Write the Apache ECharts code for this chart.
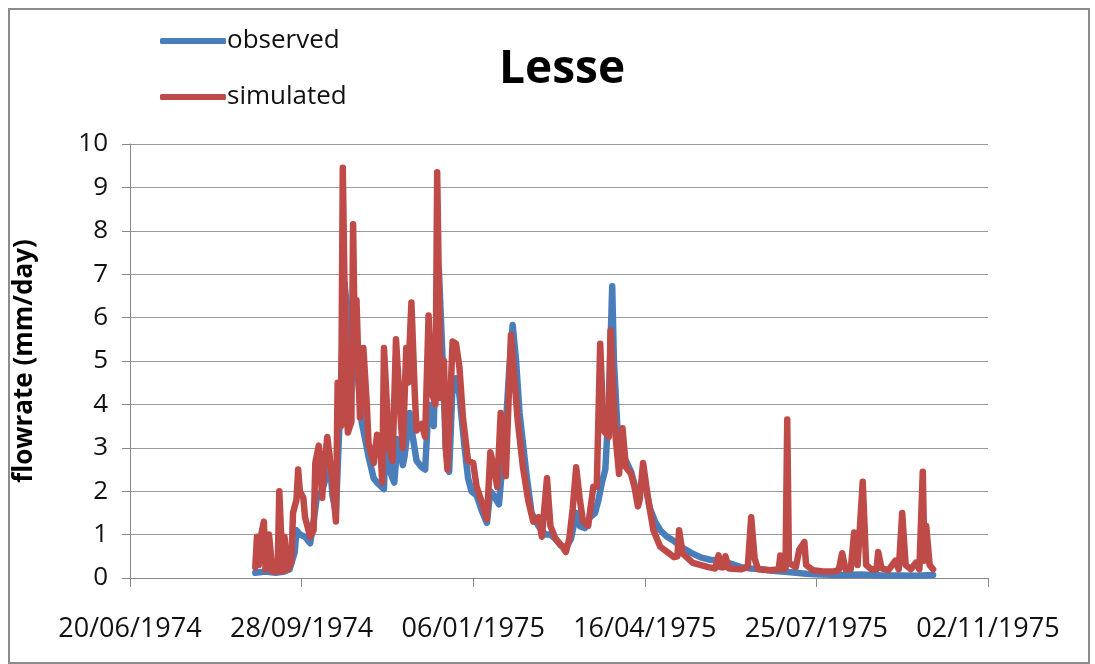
<!DOCTYPE html>
<html>
<head>
<meta charset="utf-8">
<script src="https://cdn.jsdelivr.net/npm/echarts@6/dist/echarts.min.js"></script>
<style>
html,body{margin:0;padding:0;background:#fff;}
#chart{width:1095px;height:664px;}
</style>
</head>
<body>
<div id="chart"></div>
<script>
// ---- data ----
var title = 'Lesse';
var yAxisName = 'flowrate (mm/day)';
var axisStart = '1974-06-20';
var axisEnd = '1975-11-02';
var tickStepDays = 100;

var simDates = ['1974-09-01','1974-09-02','1974-09-03','1974-09-04','1974-09-06','1974-09-07','1974-09-09','1974-09-11','1974-09-14','1974-09-15','1974-09-17','1974-09-18','1974-09-20','1974-09-22','1974-09-23','1974-09-25','1974-09-26','1974-09-27','1974-09-29','1974-09-30','1974-10-03','1974-10-05','1974-10-06','1974-10-08','1974-10-10','1974-10-11','1974-10-13','1974-10-16','1974-10-18','1974-10-19','1974-10-21','1974-10-22','1974-10-24','1974-10-25','1974-10-27','1974-10-28','1974-10-29','1974-10-30','1974-11-01','1974-11-03','1974-11-05','1974-11-06','1974-11-09','1974-11-11','1974-11-13','1974-11-14','1974-11-15','1974-11-18','1974-11-20','1974-11-22','1974-11-25','1974-11-26','1974-11-28','1974-11-29','1974-12-01','1974-12-03','1974-12-04','1974-12-07','1974-12-09','1974-12-11','1974-12-13','1974-12-15','1974-12-16','1974-12-18','1974-12-20','1974-12-21','1974-12-22','1974-12-25','1974-12-27','1974-12-29','1974-12-31','1975-01-03','1975-01-06','1975-01-08','1975-01-11','1975-01-14','1975-01-16','1975-01-18','1975-01-20','1975-01-22','1975-01-24','1975-01-25','1975-01-27','1975-01-28','1975-01-30','1975-02-01','1975-02-04','1975-02-07','1975-02-10','1975-02-13','1975-02-15','1975-02-18','1975-02-20','1975-02-23','1975-02-27','1975-03-01','1975-03-03','1975-03-05','1975-03-07','1975-03-09','1975-03-11','1975-03-14','1975-03-17','1975-03-19','1975-03-21','1975-03-23','1975-03-26','1975-03-27','1975-03-29','1975-03-30','1975-04-01','1975-04-03','1975-04-05','1975-04-08','1975-04-10','1975-04-12','1975-04-13','1975-04-15','1975-04-18','1975-04-21','1975-04-25','1975-04-29','1975-05-03','1975-05-05','1975-05-06','1975-05-08','1975-05-14','1975-05-23','1975-05-27','1975-05-29','1975-05-30','1975-06-01','1975-06-02','1975-06-04','1975-06-11','1975-06-15','1975-06-17','1975-06-19','1975-06-21','1975-06-28','1975-07-03','1975-07-04','1975-07-05','1975-07-07','1975-07-08','1975-07-09','1975-07-13','1975-07-15','1975-07-18','1975-07-19','1975-07-23','1975-07-29','1975-08-04','1975-08-07','1975-08-09','1975-08-11','1975-08-14','1975-08-16','1975-08-18','1975-08-21','1975-08-23','1975-08-26','1975-08-29','1975-08-30','1975-09-01','1975-09-05','1975-09-09','1975-09-11','1975-09-13','1975-09-15','1975-09-18','1975-09-21','1975-09-23','1975-09-25','1975-09-26','1975-09-27','1975-09-29','1975-10-01'];
var simValues = [0.25,0.95,0.3,0.9,1.3,0.2,1.0,0.15,0.15,2.0,0.15,0.95,0.2,0.35,1.5,1.8,2.5,2.0,1.85,1.4,0.95,1.1,2.65,3.05,1.85,2.55,3.25,2.2,1.3,4.5,3.5,9.45,4.0,3.35,3.6,8.15,5.5,6.4,3.7,5.3,4.0,3.1,2.65,3.3,2.95,2.2,5.3,3.0,2.7,5.5,3.5,3.0,5.3,4.5,6.35,4.2,3.4,3.55,3.25,6.05,4.25,4.0,9.35,4.15,5.0,3.0,2.5,5.45,5.4,4.85,3.7,2.7,2.65,2.1,1.75,1.35,2.9,2.55,2.1,3.8,3.1,2.35,4.5,5.6,4.6,3.6,2.55,1.8,1.3,1.4,0.95,2.3,1.2,0.9,0.72,0.6,0.9,1.6,2.55,1.85,1.3,1.2,2.1,2.1,5.4,3.4,3.25,5.7,4.0,3.25,2.4,3.45,2.55,2.4,2.1,1.65,1.8,2.65,1.8,1.1,0.72,0.6,0.48,0.5,1.1,0.57,0.35,0.25,0.22,0.52,0.25,0.25,0.5,0.22,0.2,0.25,1.4,0.45,0.2,0.18,0.2,0.52,0.2,0.22,3.65,0.35,0.25,0.65,0.83,0.3,0.18,0.15,0.15,0.18,0.57,0.2,0.2,1.05,0.3,2.22,0.3,0.2,0.2,0.6,0.22,0.18,0.4,0.2,1.5,0.3,0.2,0.35,0.2,2.45,0.4,1.2,0.3,0.2];

var obsDates = ['1974-09-01','1974-09-07','1974-09-13','1974-09-18','1974-09-21','1974-09-24','1974-09-25','1974-09-27','1974-09-30','1974-10-03','1974-10-05','1974-10-07','1974-10-10','1974-10-12','1974-10-14','1974-10-16','1974-10-18','1974-10-19','1974-10-21','1974-10-23','1974-10-25','1974-10-26','1974-10-28','1974-10-30','1974-11-02','1974-11-04','1974-11-06','1974-11-09','1974-11-11','1974-11-15','1974-11-16','1974-11-19','1974-11-21','1974-11-23','1974-11-26','1974-11-27','1974-11-30','1974-12-02','1974-12-04','1974-12-07','1974-12-09','1974-12-11','1974-12-14','1974-12-15','1974-12-17','1974-12-19','1974-12-21','1974-12-23','1974-12-25','1974-12-27','1974-12-29','1975-01-01','1975-01-03','1975-01-05','1975-01-08','1975-01-11','1975-01-14','1975-01-16','1975-01-18','1975-01-21','1975-01-23','1975-01-25','1975-01-27','1975-01-29','1975-01-31','1975-02-02','1975-02-06','1975-02-09','1975-02-13','1975-02-17','1975-02-20','1975-02-23','1975-02-26','1975-03-01','1975-03-04','1975-03-07','1975-03-09','1975-03-12','1975-03-15','1975-03-18','1975-03-20','1975-03-22','1975-03-24','1975-03-26','1975-03-28','1975-03-29','1975-03-31','1975-04-02','1975-04-05','1975-04-08','1975-04-11','1975-04-14','1975-04-16','1975-04-19','1975-04-22','1975-04-25','1975-04-29','1975-05-03','1975-05-07','1975-05-13','1975-05-19','1975-05-24','1975-05-30','1975-06-05','1975-06-11','1975-06-17','1975-06-23','1975-07-01','1975-07-10','1975-07-19','1975-07-28','1975-08-08','1975-08-20','1975-09-01','1975-09-12','1975-09-21','1975-10-01'];
var obsValues = [0.12,0.15,0.12,0.15,0.2,0.6,1.1,1.0,0.95,0.8,1.3,1.9,2.0,2.3,2.9,1.9,1.5,2.5,4.5,6.8,6.0,4.5,6.0,5.0,3.6,3.2,2.8,2.3,2.2,2.05,3.5,2.4,2.2,3.2,2.6,2.8,3.8,3.2,2.7,2.55,2.5,4.0,3.5,5.0,7.1,5.2,3.0,2.45,4.5,4.6,4.2,3.0,2.3,2.0,1.9,1.55,1.27,2.0,1.9,1.7,2.6,3.5,4.8,5.83,5.0,3.8,2.4,1.5,1.2,1.0,1.0,0.9,0.75,0.7,0.9,1.5,1.2,1.15,1.4,1.5,1.8,2.2,2.5,4.0,6.72,5.0,3.5,3.0,2.7,2.45,2.0,2.1,2.2,1.6,1.3,1.1,0.95,0.85,0.72,0.58,0.47,0.42,0.4,0.33,0.25,0.22,0.2,0.16,0.13,0.1,0.08,0.07,0.08,0.06,0.06,0.05,0.07];

// ---- helpers ----
var DAY = 86400000;
function toUTC(s){ var p = s.split('-'); return Date.UTC(+p[0], +p[1]-1, +p[2]); }
var base = toUTC(axisStart);
var span = (toUTC(axisEnd) - base) / DAY;
function dayIndex(s){ return (toUTC(s) - base) / DAY; }
function pairs(dates, vals){ return dates.map(function(d,i){ return [dayIndex(d), vals[i]]; }); }
function pad(n){ return (n<10?'0':'') + n; }
function fmt(v){ var d = new Date(base + v*DAY); return pad(d.getUTCDate()) + '/' + pad(d.getUTCMonth()+1) + '/' + d.getUTCFullYear(); }

var FONT = 'Open Sans';
var chart = echarts.init(document.getElementById('chart'), null, {renderer:'canvas'});
chart.setOption({
  animation: false,
  backgroundColor: '#fff',
  graphic: [{
    type: 'rect', left: 8, top: 8, z: -1,
    shape: {width: 1080, height: 654},
    style: {fill: '#fff', stroke: '#8c8c8c', lineWidth: 2}
  }],
  title: {
    text: title, left: 494, top: 42,
    textStyle: {fontFamily: FONT, fontWeight: 'bold', fontSize: 46, color: '#000'}
  },
  legend: {
    orient: 'vertical', left: 160, top: 26, padding: 0,
    itemWidth: 66, itemHeight: 6, itemGap: 26, icon: 'roundRect',
    textStyle: {fontFamily: FONT, fontSize: 26, color: '#111', lineHeight: 30, padding: [0,0,0,-4]},
    data: ['observed', 'simulated']
  },
  grid: {left: 130, right: 107, top: 144, bottom: 86},
  xAxis: {
    type: 'value', min: 0, max: span, interval: tickStepDays,
    axisLine: {show: true, onZero: false, lineStyle: {color: '#888', width: 1}},
    axisTick: {show: true, length: 9, lineStyle: {color: '#888'}},
    splitLine: {show: false},
    axisLabel: {formatter: fmt, margin: 38, fontFamily: FONT, fontSize: 27, color: '#111', showMaxLabel: true, showMinLabel: true}
  },
  yAxis: {
    type: 'value', min: 0, max: 10, interval: 1,
    name: yAxisName, nameLocation: 'middle', nameGap: 92, nameRotate: 90,
    nameTextStyle: {fontFamily: FONT, fontWeight: 'bold', fontSize: 26, color: '#000'},
    axisLine: {show: true, lineStyle: {color: '#888', width: 1}},
    axisTick: {show: true, length: 8, lineStyle: {color: '#888'}},
    splitLine: {show: true, lineStyle: {color: '#9a9a9a', width: 1}},
    axisLabel: {margin: 22, fontFamily: FONT, fontSize: 26, color: '#111'}
  },
  series: [
    {name: 'observed', type: 'line', symbol: 'none', color: '#4A7EBB',
     lineStyle: {width: 6.5, color: '#4A7EBB', cap: 'round', join: 'round'},
     data: pairs(obsDates, obsValues)},
    {name: 'simulated', type: 'line', symbol: 'none', color: '#BE4B48',
     lineStyle: {width: 6.5, color: '#BE4B48', cap: 'round', join: 'round'},
     data: pairs(simDates, simValues)}
  ]
});
</script>
</body>
</html>
